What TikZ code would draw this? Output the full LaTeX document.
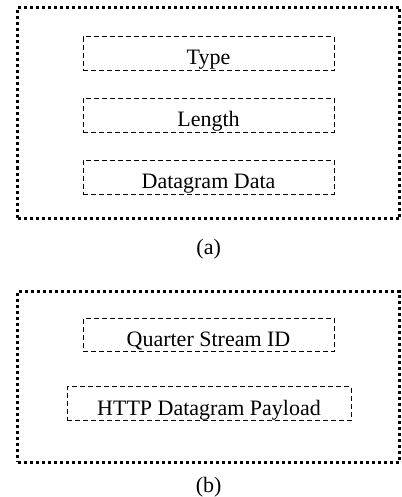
\documentclass[tikz,border=0pt]{standalone}
\usepackage{fontspec}
\setmainfont{Liberation Serif}
\begin{document}
\begin{tikzpicture}[x=1pt,y=-1pt,
  frame/.style={draw, line width=3pt, dash pattern=on 3pt off 3pt, inner sep=0pt},
  field/.style={draw, line width=0.9pt, dash pattern=on 5pt off 3pt, inner sep=0pt,
    text height=22.4pt, text depth=0pt, font=\fontsize{22}{26}\selectfont},
  caption/.style={font=\fontsize{22}{26}\selectfont, inner sep=0pt}]
\useasboundingbox (0,0) rectangle (401,497);
% frame (a): datagram frame fields
\node[frame, minimum width=382pt, minimum height=211pt] (fa) at (208.5,113) {};
\node[field, minimum width=251pt, minimum height=34pt] (type) at (208.5,53.7) {Type};
\node[field, minimum width=251pt, minimum height=34pt] (len) at (208.5,115.3) {Length};
\node[field, minimum width=251pt, minimum height=34pt] (data) at (208.5,177.4) {Datagram Data};
\node[caption] (ca) at (208.7,249.2) {(a)};
% frame (b): HTTP datagram
\node[frame, minimum width=382pt, minimum height=170.5pt] (fb) at (208.5,377.2) {};
\node[field, minimum width=251pt, minimum height=33.5pt] (qsid) at (208.5,335) {Quarter Stream ID};
\node[field, minimum width=284pt, minimum height=34pt] (payload) at (209,403.8) {HTTP Datagram Payload};
\node[caption] (cb) at (208.7,487) {(b)};
\end{tikzpicture}
\end{document}
